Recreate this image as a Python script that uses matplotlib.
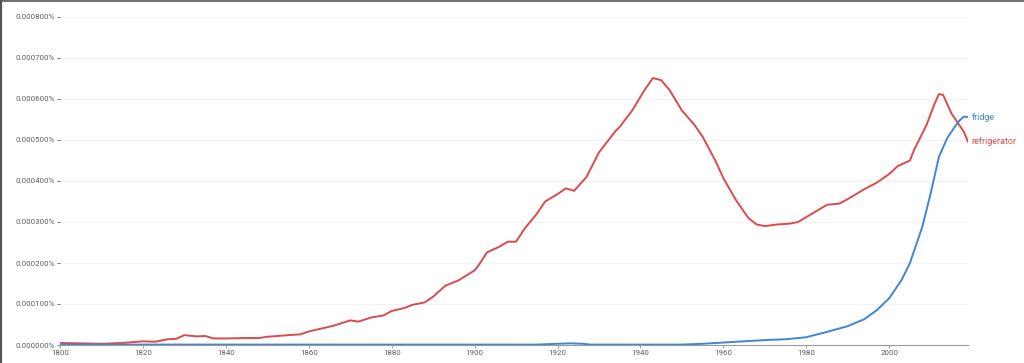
import matplotlib.pyplot as plt
from matplotlib.lines import Line2D

plt.rcParams['font.family'] = ['Roboto', 'DejaVu Sans']

# values in millionths of a percent (1 = 0.000001%)
REF_YEARS = [1800, 1805, 1810, 1815, 1820, 1823, 1826, 1828, 1830, 1833, 1835, 1837,
             1840, 1845, 1848, 1850, 1855, 1858, 1860, 1863, 1866, 1870, 1872, 1875,
             1878, 1880, 1883, 1885, 1888, 1890, 1893, 1896, 1900, 1901, 1903, 1906,
             1908, 1910, 1912, 1915, 1917, 1920, 1922, 1924, 1927, 1930, 1934, 1935,
             1938, 1941, 1943, 1945, 1947, 1950, 1953, 1955, 1958, 1960, 1963, 1966,
             1968, 1970, 1973, 1976, 1978, 1981, 1985, 1988, 1990, 1994, 1997, 2000,
             2002, 2005, 2006, 2009, 2011, 2012, 2013, 2015, 2017, 2018, 2019]
REF_VALUES = [5, 4, 3, 5, 9, 8, 14, 15, 24, 21, 22, 16,
              16, 17, 17, 20, 24, 26, 33, 40, 47, 60, 57, 67,
              72, 83, 90, 98, 104, 118, 145, 157, 182, 195, 226, 240,
              252, 252, 283, 320, 350, 368, 382, 376, 410, 470, 522, 532,
              572, 622, 651, 646, 622, 572, 537, 508, 451, 407, 354, 310,
              294, 290, 294, 296, 300, 318, 342, 345, 356, 380, 396, 417,
              436, 450, 476, 537, 590, 612, 610, 565, 535, 520, 496]

FRIDGE_YEARS = [1800, 1850, 1900, 1915, 1920, 1923, 1926, 1928, 1950, 1955, 1960, 1965,
                1970, 1975, 1980, 1985, 1990, 1994, 1997, 2000, 2003, 2005, 2008, 2010,
                2012, 2014, 2016, 2017, 2018, 2019]
FRIDGE_VALUES = [1, 1, 1, 1, 3, 4, 3, 1, 1, 3, 6, 9,
                 12, 14, 19, 32, 46, 63, 85, 114, 159, 200, 289, 370,
                 459, 505, 535, 548, 557, 556]

X_TICKS = [1800, 1820, 1840, 1860, 1880, 1900, 1920, 1940, 1960, 1980, 2000]
Y_TICKS = [0, 100, 200, 300, 400, 500, 600, 700, 800]
Y_LABELS = ['0.000000%', '0.000100%', '0.000200%', '0.000300%', '0.000400%',
            '0.000500%', '0.000600%', '0.000700%', '0.000800%']

RED = '#db4b4b'
BLUE = '#3f86d6'

fig = plt.figure(figsize=(10.24, 3.63), dpi=100)
ax = fig.add_axes([60 / 1024, 18 / 363, 908 / 1024, 328 / 363])

ax.plot(REF_YEARS, REF_VALUES, color=RED, linewidth=1.4, solid_joinstyle='round')
ax.plot(FRIDGE_YEARS, FRIDGE_VALUES, color=BLUE, linewidth=1.4, solid_joinstyle='round')

ax.text(2019.8, FRIDGE_VALUES[-1], 'fridge', color=BLUE, fontsize=6.5, va='center', ha='left')
ax.text(2019.8, REF_VALUES[-1], 'refrigerator', color=RED, fontsize=6.5, va='center', ha='left')

ax.set_xlim(1800, 2019)
ax.set_ylim(0, 800)
ax.set_xticks(X_TICKS)
ax.set_yticks(Y_TICKS)
ax.set_yticklabels(Y_LABELS)

for s in ['top', 'right', 'left']:
    ax.spines[s].set_visible(False)
ax.spines['bottom'].set_color('#9a9a9a')
ax.spines['bottom'].set_linewidth(0.8)

ax.tick_params(axis='y', length=2.5, width=0.7, color='#777777', pad=1.5,
               labelsize=5.7, labelcolor='#5f5f5f')
ax.tick_params(axis='x', length=2, width=0.7, color='#9a9a9a', pad=1.5,
               labelsize=5.7, labelcolor='#5f5f5f')

ax.grid(axis='y', color='#f2f2f2', linewidth=0.7)
ax.set_axisbelow(True)

# dark edge along the top and left of the picture only
fig.lines.append(Line2D([0.001, 0.001], [0, 1], transform=fig.transFigure,
                        color='#555555', linewidth=1.6))
fig.lines.append(Line2D([0, 1], [0.998, 0.998], transform=fig.transFigure,
                        color='#555555', linewidth=1.2))

plt.savefig('out.png', dpi=100)
